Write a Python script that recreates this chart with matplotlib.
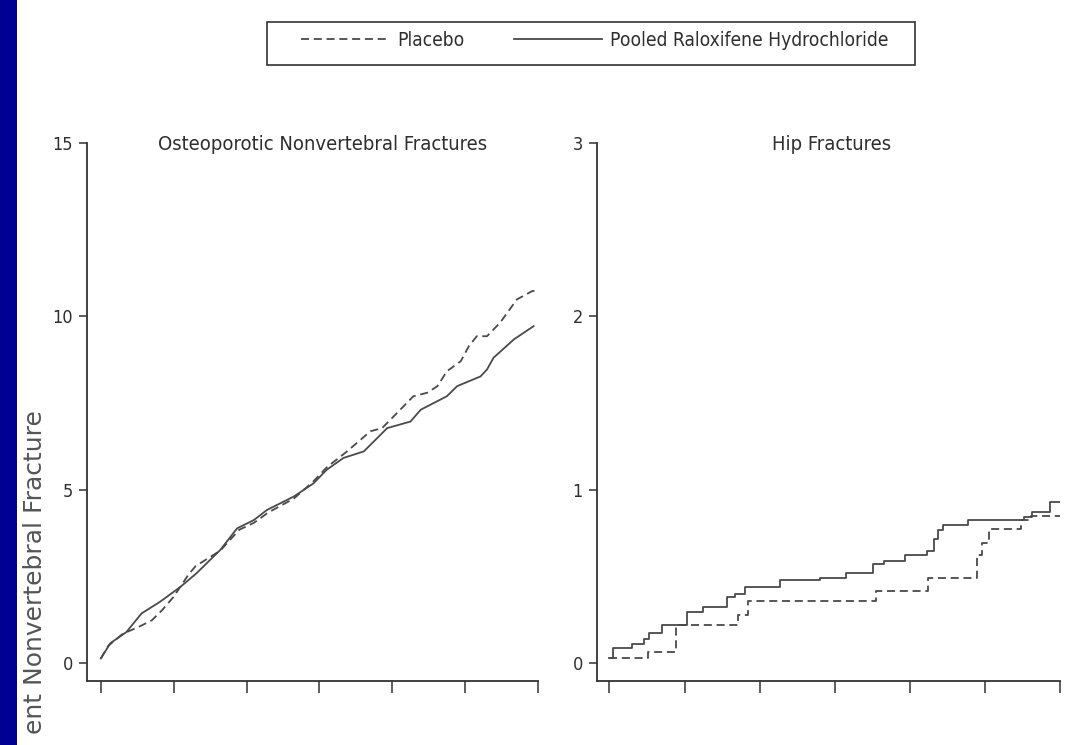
import numpy as np
import matplotlib
matplotlib.use("Agg")
import matplotlib.pyplot as plt
from matplotlib import font_manager
from matplotlib.font_manager import FontProperties
from matplotlib.lines import Line2D
from matplotlib.patches import Rectangle

plt.rcParams['lines.scale_dashes'] = False

# Osteoporotic nonvertebral fractures (cumulative %, x in tick units)
nonvert_ral_x = [0.0, 0.13, 0.35, 0.56, 0.81, 1.09, 1.31, 1.64, 1.87, 2.10, 2.28, 2.65, 2.92,
                 3.10, 3.33, 3.61, 3.93, 4.25, 4.39, 4.75, 4.89, 5.21, 5.30, 5.39, 5.67, 5.94]
nonvert_ral_y = [0.14, 0.58, 0.90, 1.44, 1.77, 2.20, 2.59, 3.27, 3.89, 4.13, 4.42, 4.81, 5.19,
                 5.58, 5.92, 6.11, 6.78, 6.97, 7.31, 7.70, 7.99, 8.27, 8.47, 8.81, 9.34, 9.72]
nonvert_pbo_x = [0.0, 0.10, 0.30, 0.52, 0.70, 0.84, 1.00, 1.20, 1.30, 1.64, 1.90, 2.10, 2.30,
                 2.65, 2.92, 3.10, 3.38, 3.70, 3.86, 4.02, 4.29, 4.48, 4.62, 4.75, 4.94, 5.05,
                 5.16, 5.30, 5.48, 5.71, 5.92, 6.00]
nonvert_pbo_y = [0.14, 0.50, 0.85, 1.05, 1.24, 1.53, 1.92, 2.55, 2.80, 3.25, 3.85, 4.05, 4.35,
                 4.75, 5.25, 5.65, 6.11, 6.69, 6.78, 7.12, 7.70, 7.80, 7.99, 8.42, 8.71, 9.14,
                 9.43, 9.43, 9.82, 10.49, 10.73, 10.75]

# Hip fractures (step curves)
hip_ral_x = [0.0, 0.05, 0.30, 0.46, 0.52, 0.70, 1.03, 1.25, 1.57, 1.67, 1.80, 2.27, 2.80,
             3.15, 3.51, 3.66, 3.93, 4.23, 4.32, 4.38, 4.44, 4.77, 5.52, 5.63, 5.87, 6.04]
hip_ral_y = [0.03, 0.091, 0.114, 0.143, 0.172, 0.22, 0.297, 0.326, 0.38, 0.40, 0.44, 0.48,
             0.494, 0.519, 0.573, 0.592, 0.625, 0.65, 0.716, 0.77, 0.80, 0.824, 0.844, 0.873,
             0.928, 0.928]
hip_pbo_x = [0.0, 0.51, 0.89, 1.71, 1.85, 3.55, 4.24, 4.90, 4.96, 5.05, 5.48, 5.62, 6.02]
hip_pbo_y = [0.03, 0.065, 0.22, 0.278, 0.36, 0.417, 0.49, 0.625, 0.693, 0.774, 0.828, 0.85,
             0.85]

x_ticks = [0, 1, 2, 3, 4, 5, 6]
nonvert_yticks = [0, 5, 10, 15]
hip_yticks = [0, 1, 2, 3]

series_labels = ["Placebo", "Pooled Raloxifene Hydrochloride"]
panel_titles = ["Osteoporotic Nonvertebral Fractures", "Hip Fractures"]
ylabel_text = "ent Nonvertebral Fracture"

# pick a narrow sans face if one is installed
names = {f.name for f in font_manager.fontManager.ttflist}
if 'Liberation Sans Narrow' in names:
    narrow = dict(family='Liberation Sans Narrow')
else:
    narrow = dict(family='DejaVu Sans', stretch='condensed')

ink = '#2e2e2e'
line_col = '#4a4a4a'
dash = (0, (5.8, 3.4))

W, H = 1087, 745
fig = plt.figure(figsize=(W / 100, H / 100), dpi=100)
fig.patch.set_facecolor('white')

# navy strip down the left edge
fig.patches.append(Rectangle((0, 0), 17 / W, 1, transform=fig.transFigure,
                             facecolor='#000092', edgecolor='none'))

top = 1 - 143 / H
bottom = 1 - 681 / H
ax1 = fig.add_axes([87 / W, bottom, (538 - 87) / W, top - bottom])
ax2 = fig.add_axes([596.7 / W, bottom, (1060 - 596.7) / W, top - bottom])

tick_fp = FontProperties(size=13, **narrow)
title_fp = FontProperties(size=14.5, **narrow)
leg_size = 13.8
leg_fp = FontProperties(size=leg_size, **narrow)


def style_axis(ax, yticks, ylim, xlim_left, title, title_x):
    ax.set_xlim(xlim_left, 6)
    ax.set_ylim(*ylim)
    for s in ['top', 'right']:
        ax.spines[s].set_visible(False)
    for s in ['left', 'bottom']:
        ax.spines[s].set_color('#333333')
        ax.spines[s].set_linewidth(1.3)
    ax.set_xticks(x_ticks)
    ax.set_xticklabels([])
    ax.set_yticks(yticks, labels=[str(t) for t in yticks], fontproperties=tick_fp, color=ink)
    ax.tick_params(axis='x', length=8.5, width=1.1, color='#333333')
    ax.tick_params(axis='y', length=6, width=1.1, color='#333333', pad=4)
    ax.text(title_x, 0.998, title, transform=ax.transAxes, ha='center', va='center',
            fontproperties=title_fp, color=ink)


ax1.plot(nonvert_pbo_x, nonvert_pbo_y, color=line_col, lw=1.3, linestyle=dash)
ax1.plot(nonvert_ral_x, nonvert_ral_y, color=line_col, lw=1.3)
style_axis(ax1, nonvert_yticks, (-0.51, 15), -0.19, panel_titles[0], 0.523)

ax2.step(hip_pbo_x, hip_pbo_y, where='post', color=line_col, lw=1.3, linestyle=dash)
ax2.step(hip_ral_x, hip_ral_y, where='post', color=line_col, lw=1.3)
style_axis(ax2, hip_yticks, (-0.102, 3), -0.17, panel_titles[1], 0.508)

# legend box
fig.patches.append(Rectangle((267 / W, 1 - 65 / H), (915 - 267) / W, (65 - 22) / H,
                             transform=fig.transFigure, facecolor='none',
                             edgecolor='#333333', lw=1.2))
handles = [Line2D([], [], color=line_col, lw=1.3, linestyle=dash),
           Line2D([], [], color=line_col, lw=1.3)]
em = leg_size * 100 / 72
fig.legend(handles, series_labels, loc='center left',
           bbox_to_anchor=(301 / W, 1 - 40 / H), ncol=2, frameon=False,
           borderpad=0, borderaxespad=0, handlelength=88 / em, handletextpad=8 / em,
           columnspacing=50 / em, prop=leg_fp, labelcolor=ink)

fig.text(35 / W, 1 - 410 / H, ylabel_text, rotation=90, ha='center', va='top',
         fontsize=18, family='DejaVu Sans', color='#555555')

fig.savefig('out.png', dpi=100)
